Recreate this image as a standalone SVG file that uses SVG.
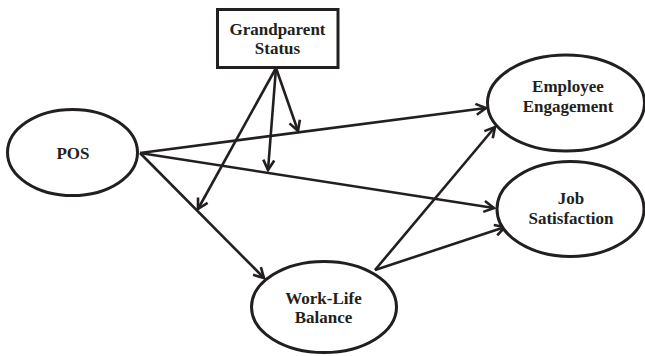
<svg xmlns="http://www.w3.org/2000/svg" width="645" height="356" viewBox="0 0 645 356">
<defs>
<style>
.node{fill:#fff;stroke:#231f20;stroke-width:3}
.lbl{font-family:"Liberation Serif","Times New Roman",serif;font-weight:bold;font-size:17px;fill:#231f20;text-anchor:middle}
.edge{fill:none;stroke:#231f20;stroke-width:2.6}
</style>
<marker id="arr" viewBox="0 0 14 14" refX="12" refY="7" markerWidth="14" markerHeight="14" markerUnits="userSpaceOnUse" orient="auto">
<path d="M2,1.5 L12,7 L2,12.5" fill="none" stroke="#231f20" stroke-width="2.6" stroke-linejoin="miter"/>
</marker>
</defs>
<rect width="645" height="356" fill="#fff"/>
<g id="connectors">
<line class="edge" x1="140" y1="153" x2="486" y2="108" marker-end="url(#arr)"/>
<line class="edge" x1="140" y1="153" x2="494" y2="208" marker-end="url(#arr)"/>
<line class="edge" x1="140" y1="153" x2="264" y2="278" marker-end="url(#arr)"/>
<line class="edge" x1="375" y1="270" x2="495" y2="127" marker-end="url(#arr)"/>
<line class="edge" x1="375" y1="270" x2="505" y2="227" marker-end="url(#arr)"/>
<line class="edge" x1="276" y1="68" x2="198" y2="209" marker-end="url(#arr)"/>
<line class="edge" x1="276" y1="68" x2="268" y2="170" marker-end="url(#arr)"/>
<line class="edge" x1="276" y1="68" x2="298" y2="131" marker-end="url(#arr)"/>
</g>
<g id="grandparent">
<rect class="node" x="217.5" y="9.5" width="120.5" height="58"/>
<text class="lbl" x="277.5" y="35">Grandparent</text>
<text class="lbl" x="277.5" y="54">Status</text>
</g>
<g id="pos">
<ellipse class="node" cx="72.5" cy="152.5" rx="65" ry="43"/>
<text class="lbl" x="73" y="159">POS</text>
</g>
<g id="engagement">
<ellipse class="node" cx="566" cy="103" rx="78.5" ry="48"/>
<text class="lbl" x="568" y="92">Employee</text>
<text class="lbl" x="568" y="112">Engagement</text>
</g>
<g id="satisfaction">
<ellipse class="node" cx="570.5" cy="209" rx="73.5" ry="47.5"/>
<text class="lbl" x="571" y="204">Job</text>
<text class="lbl" x="571" y="224">Satisfaction</text>
</g>
<g id="wlb">
<ellipse class="node" cx="324" cy="307" rx="72.5" ry="45.5"/>
<text class="lbl" x="323.5" y="304">Work-Life</text>
<text class="lbl" x="323.5" y="323">Balance</text>
</g>
</svg>
